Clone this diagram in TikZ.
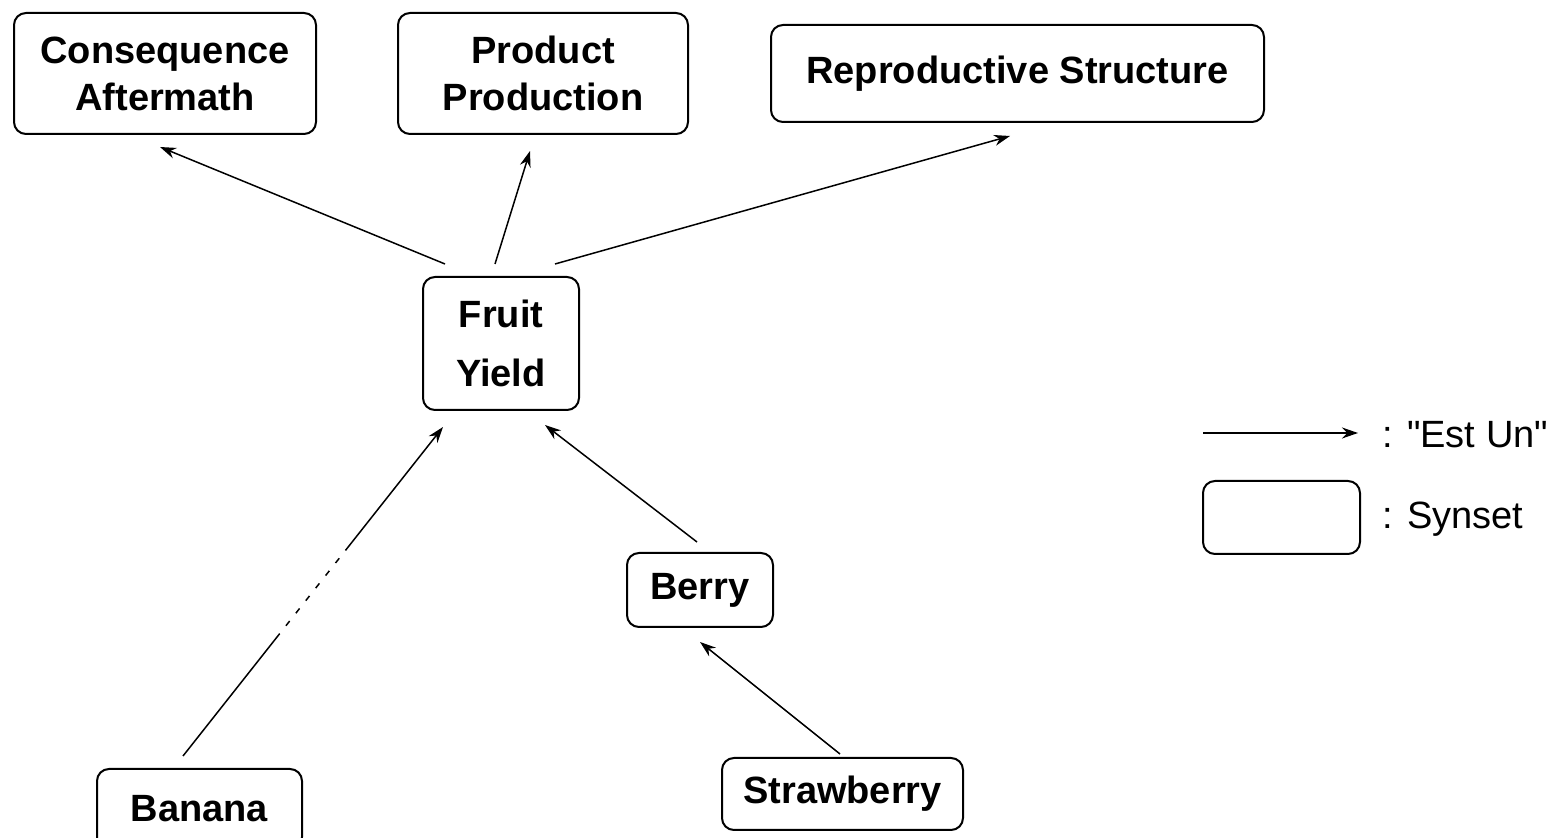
\documentclass[tikz,border=0pt]{standalone}
\usepackage{fontspec}
\setmainfont{Liberation Sans}
\usetikzlibrary{arrows.meta}

\tikzset{
  synset/.style={draw, line width=1pt, rounded corners=6pt, inner sep=0pt,
    align=center, font=\bfseries\fontsize{19}{23.5}\selectfont},
  isa/.style={line width=0.75pt, -{Stealth[length=8pt,width=5.5pt]}},
  legendtext/.style={anchor=west, inner sep=0pt, font=\fontsize{19}{23}\selectfont}
}

\begin{document}
\begin{tikzpicture}[x=0.5pt,y=-0.5pt]
  \useasboundingbox (0,0) rectangle (1553,838);
  \clip (0,0) rectangle (1553,838);
  \fill[white] (0,0) rectangle (1553,838);

  % synsets
  \node[synset, minimum width=151pt, minimum height=60.5pt] (cons) at (165,73.5) {Consequence\\Aftermath};
  \node[synset, minimum width=145pt, minimum height=60.5pt] (prod) at (543,73.5) {Product\\Production};
  \node[synset, minimum width=246.5pt, minimum height=48.5pt] (repr) at (1017.5,73.5) {\raisebox{-1.5pt}{Reproductive Structure}};
  \node[synset, minimum width=78pt, minimum height=66.5pt] (fruit) at (501,343.5) {Fruit\\[6pt]Yield};
  \node[synset, minimum width=73pt, minimum height=37pt] (berry) at (700,590) {Berry};
  \node[synset, minimum width=102.5pt, minimum height=40pt] (banana) at (199.5,809) {Banana};
  \node[synset, minimum width=120.5pt, minimum height=36pt] (straw) at (842.5,794) {Strawberry};

  % "est un" links
  \draw[isa] ([shift={(-56,-12)}]fruit.north) -- ([shift={(-5,12)}]cons.south);
  \draw[isa] ([shift={(-6,-12)}]fruit.north) -- ([shift={(-13,16)}]prod.south);
  \draw[isa] ([shift={(54,-12)}]fruit.north) -- ([shift={(-7.5,13)}]repr.south);
  \draw[isa, dash pattern=on 78pt off 5pt on 3pt off 5pt on 3pt off 5pt on 3pt off 5pt on 3pt off 5pt on 3pt off 5pt on 3pt off 5pt on 250pt]
    ([shift={(-16.5,-12)}]banana.north) -- ([shift={(-58,16)}]fruit.south);
  \draw[isa] ([shift={(-3,-10)}]berry.north) -- ([shift={(44,14)}]fruit.south);
  \draw[isa] ([shift={(-2.5,-3)}]straw.north) -- ([shift={(0,14)}]berry.south);

  % legend
  \coordinate (legA) at (1203,433);
  \coordinate (legB) at (1358,433);
  \draw[isa] (legA) -- (legB);
  \node[legendtext] (legisa) at (1382,435) {: \textquotedbl Est Un\textquotedbl};
  \node[synset, minimum width=78.5pt, minimum height=36.5pt] (legbox) at (1281.5,517.5) {};
  \node[legendtext] (legsyn) at (1382,519) {: Synset};
\end{tikzpicture}
\end{document}
